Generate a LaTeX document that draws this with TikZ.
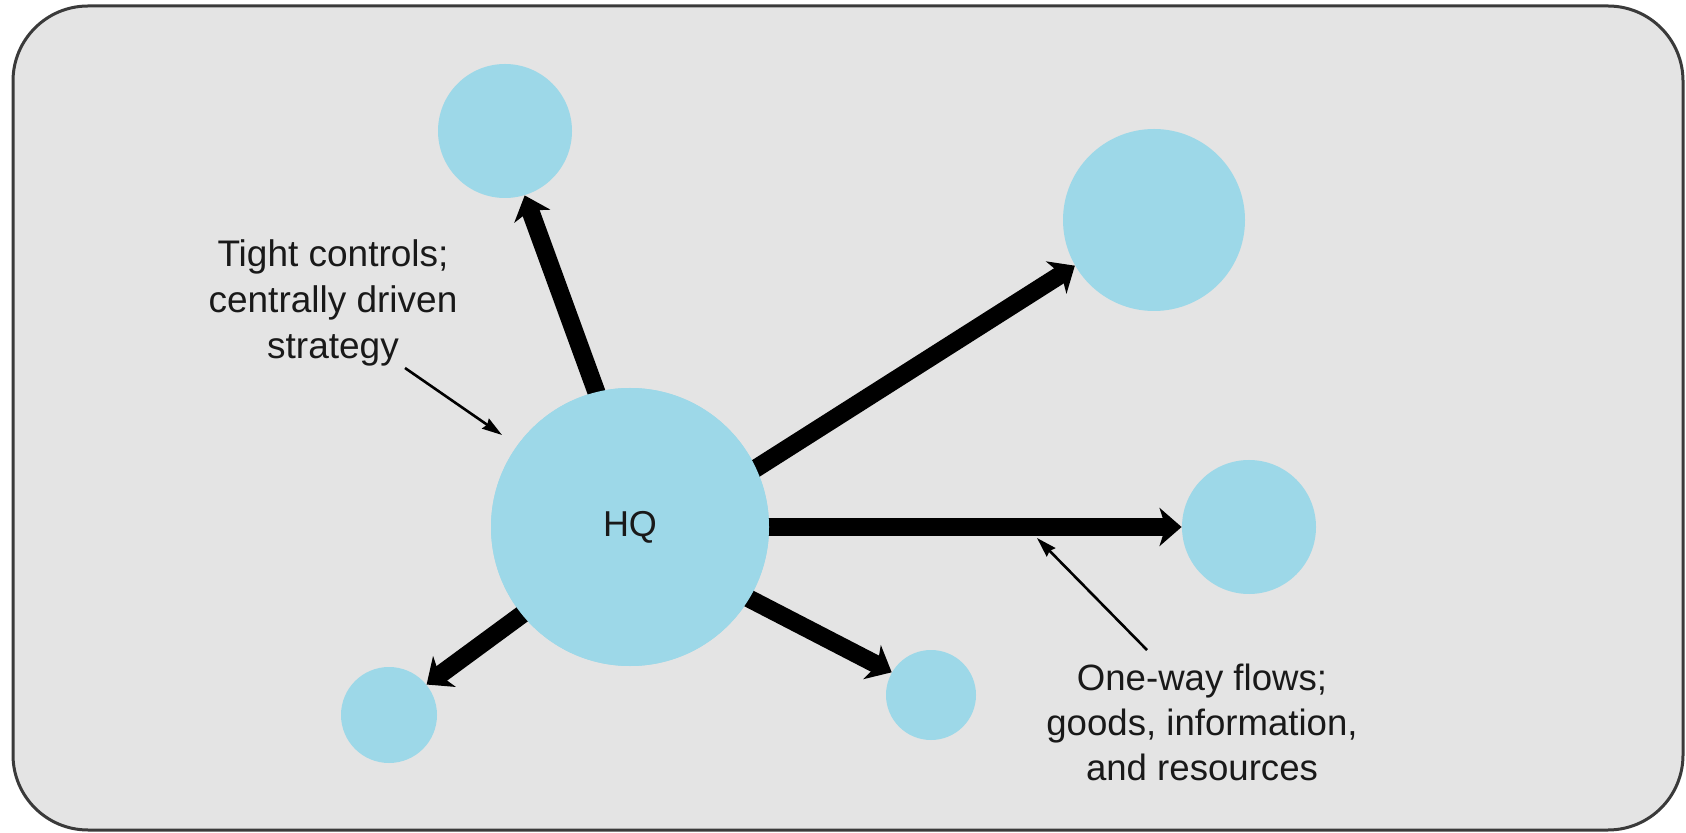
\documentclass[tikz,border=0pt]{standalone}
\usepackage{fontspec}
\setmainfont{Liberation Sans}
\usetikzlibrary{arrows.meta}
\definecolor{bgray}{HTML}{E4E4E4}
\definecolor{sky}{HTML}{9DD8E8}
\definecolor{frame}{HTML}{3A3A3A}
\tikzset{
  blob/.style={circle, fill=sky, draw=none, inner sep=0pt},
  flow/.style={line width=9pt, -{Stealth[length=11pt,width=19pt,inset=3pt]}},
  note/.style={line width=1.3pt, -{Stealth[length=10pt,width=6pt,inset=1pt]}},
  lbl/.style={align=center, font=\fontsize{18.5}{23}\selectfont, text=black!90, inner sep=0pt}
}
\begin{document}
\begin{tikzpicture}[x=0.5pt,y=-0.5pt]
\useasboundingbox (0,0) rectangle (1686,833);
\draw[fill=bgray, draw=frame, line width=1.5pt, rounded corners=37.5pt] (13,6) rectangle (1683,830);
\node[blob, minimum size=139pt] (hq) at (630,527) {};
\node[blob, minimum size=67pt] (tl) at (505,131) {};
\node[blob, minimum size=91pt] (tr) at (1154,220) {};
\node[blob, minimum size=67pt] (rt) at (1249,527) {};
\node[blob, minimum size=48pt] (bl) at (389,715) {};
\node[blob, minimum size=45pt] (bm) at (931,695) {};
\draw[flow, shorten <=-8pt] (hq.104.6) -- (tl.287.7);
\draw[flow, shorten <=-8pt] (hq.25.6) -- (tr.210.3);
\draw[flow, shorten <=-8pt] (hq.east) -- (rt.west);
\draw[flow, shorten <=-8pt] (hq.-31.3) -- (bm.150.7);
\draw[flow, shorten <=-8pt] (hq.219) -- (bl.39.4);
\node[blob, minimum size=139pt] at (hq) {};
\node[lbl, font=\fontsize{18}{22}\selectfont] at (hq) {HQ};
\node[lbl] (tc) at (333,303) {Tight controls;\\centrally driven\\strategy};
\node[lbl, font=\fontsize{18.3}{22.5}\selectfont] (ow) at (1202,722) {One-way flows;\\goods, information,\\and resources};
\coordinate (tcs) at (405,368);
\coordinate (tce) at (502,435);
\coordinate (ows) at (1147,650);
\coordinate (owe) at (1037,538);
\draw[note] (tcs) -- (tce);
\draw[note] (ows) -- (owe);
\end{tikzpicture}
\end{document}
